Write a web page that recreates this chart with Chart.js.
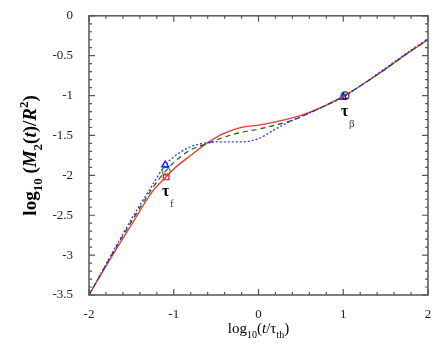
<!DOCTYPE html>
<html>
<head>
<meta charset="utf-8">
<script src="https://cdn.jsdelivr.net/npm/chart.js@4.4.0/dist/chart.umd.min.js"></script>
<style>
  body { margin: 0; background: #fff; }
  #wrap { width: 436px; height: 356px; }
</style>
</head>
<body>
<div id="wrap"><canvas id="c" width="436" height="356"></canvas></div>
<script>
// log10(t/tau_th) sample points
var logT = [-2, -1.75, -1.5, -1.25, -1.1, -1, -0.8, -0.6, -0.4, -0.2, 0, 0.2, 0.4, 0.6, 0.8, 1, 1.2, 1.4, 1.6, 1.8, 2]
// log10(M2(t)/R^2) for the three curves
var redVals   = [-3.5, -3.05, -2.62, -2.2, -2.03, -1.92, -1.75, -1.59, -1.47, -1.40, -1.37, -1.33, -1.28, -1.21, -1.12, -1.01, -0.88, -0.74, -0.59, -0.44, -0.3]
var greenVals = [-3.5, -3.03, -2.58, -2.16, -1.95, -1.84, -1.68, -1.60, -1.52, -1.46, -1.42, -1.37, -1.31, -1.22, -1.12, -1.01, -0.88, -0.74, -0.59, -0.44, -0.3]
var blueVals  = [-3.5, -3.02, -2.55, -2.12, -1.87, -1.77, -1.64, -1.59, -1.58, -1.58, -1.54, -1.42, -1.31, -1.22, -1.12, -1.02, -0.88, -0.73, -0.58, -0.43, -0.29]

// marked times tau_f and tau_beta
var markX   = [[-1.1, 1.0], [-1.09, 1.02], [-1.09, 1.03]]  // blue, green, red
var markY   = [[-1.87, -1.02], [-1.95, -1.0], [-2.02, -1.0]]
var markLabels = [["τ", "f", -1.09, -2.02], ["τ", "β", 1.02, -1.02]]

var xTicks = [-2, -1, 0, 1, 2]
var yTicks = [0, -0.5, -1, -1.5, -2, -2.5, -3, -3.5]

function pts(xs, ys){
  return xs.map(function(x, i){ return {x: x, y: ys[i]} })
}

var SERIF = "'Liberation Serif', 'DejaVu Serif', serif"

// frame and inward ticks on all four sides
var framePlugin = {
  id: 'frame',
  afterDatasetsDraw(chart){
    var ctx = chart.ctx, a = chart.chartArea
    var xs = chart.scales.x, ys = chart.scales.y
    ctx.save()
    ctx.strokeStyle = '#555'
    ctx.lineWidth = 1.5
    ctx.strokeRect(a.left, a.top, a.right - a.left, a.bottom - a.top)
    ctx.lineWidth = 1.2
    ctx.beginPath()
    for(var v = -2; v <= 2.0001; v += 0.2){
      var px = xs.getPixelForValue(v)
      var major = Math.abs(v - Math.round(v)) < 0.01
      var len = major ? 6 : 3
      ctx.moveTo(px, a.bottom); ctx.lineTo(px, a.bottom - len)
      ctx.moveTo(px, a.top); ctx.lineTo(px, a.top + len)
    }
    for(var k = 0; k <= 35; k++){
      var val = -k / 10
      var py = ys.getPixelForValue(val)
      var len2 = (k % 5 == 0) ? 6 : 3
      ctx.moveTo(a.left, py); ctx.lineTo(a.left + len2, py)
      ctx.moveTo(a.right, py); ctx.lineTo(a.right - len2, py)
    }
    ctx.stroke()
    ctx.restore()
  }
}

function drawRuns(ctx, runs, x, y){
  // runs: [text, font, dy]
  var total = 0
  runs.forEach(function(r){ ctx.font = r[1]; total += ctx.measureText(r[0]).width })
  var cx = x - total / 2
  runs.forEach(function(r){
    ctx.font = r[1]
    ctx.fillText(r[0], cx, y + r[2])
    cx += ctx.measureText(r[0]).width
  })
}

// axis titles and tau labels
var textPlugin = {
  id: 'texts',
  afterDraw(chart){
    var ctx = chart.ctx, a = chart.chartArea
    var xs = chart.scales.x, ys = chart.scales.y
    ctx.save()
    ctx.fillStyle = '#000'
    ctx.textBaseline = 'alphabetic'
    ctx.textAlign = 'left'
    var big = "15px " + SERIF, sub = "10px " + SERIF, it = "italic 15px " + SERIF
    drawRuns(ctx, [
      ["log", big, 0], ["10", sub, 5], ["(", big, 0], ["t", it, 0],
      ["/τ", big, 0], ["th", sub, 5], [")", big, 0]
    ], (a.left + a.right) / 2, 333)

    ctx.translate(36, (a.top + a.bottom) / 2)
    ctx.rotate(-Math.PI / 2)
    var bb = "bold 19px " + SERIF, bs = "bold 13px " + SERIF, bi = "bold italic 19px " + SERIF
    drawRuns(ctx, [
      ["log", bb, 0], ["10", bs, 6], [" (", bb, 0], ["M", bi, 0], ["2", bs, 6],
      ["(", bb, 0], ["t", bi, 0], [")/", bb, 0], ["R", bi, 0], ["2", bs, -8], [")", bb, 0]
    ], 0, 0)
    ctx.restore()

    ctx.save()
    ctx.textAlign = 'left'
    markLabels.forEach(function(m){
      var px = xs.getPixelForValue(m[2]), py = ys.getPixelForValue(m[3])
      ctx.fillStyle = '#000'
      ctx.font = "bold 16px " + SERIF
      ctx.fillText(m[0], px - 4, py + 19)
      ctx.fillStyle = '#444'
      ctx.font = "11px " + SERIF
      ctx.fillText(m[1], px + 4, py + 30)
    })
    ctx.restore()
  }
}

var lineStyle = { pointRadius: 0, fill: false, cubicInterpolationMode: 'monotone' }

var datasets = [
  Object.assign({ data: pts(logT, blueVals), borderColor: '#3333ff', borderWidth: 1.3, borderDash: [2, 2] }, lineStyle),
  Object.assign({ data: pts(logT, greenVals), borderColor: '#006400', borderWidth: 1.2, borderDash: [5, 4] }, lineStyle),
  Object.assign({ data: pts(logT, redVals), borderColor: '#ff3030', borderWidth: 1.3 }, lineStyle)
]
var markStyles = [['triangle', '#0000ee'], ['circle', '#2e8b57'], ['rect', '#ee0000']]
markStyles.forEach(function(s, i){
  datasets.push({
    data: pts(markX[i], markY[i]), showLine: false, pointStyle: s[0],
    pointRadius: 4, pointBorderColor: s[1], pointBackgroundColor: 'rgba(0,0,0,0)', pointBorderWidth: 1.2
  })
})

new Chart(document.getElementById('c'), {
  type: 'line',
  data: { datasets: datasets },
  plugins: [framePlugin, textPlugin],
  options: {
    responsive: false,
    animation: false,
    layout: { padding: { top: 13, right: 8, left: 0, bottom: 0 } },
    plugins: { legend: { display: false }, tooltip: { enabled: false } },
    scales: {
      x: {
        type: 'linear', min: -2, max: 2,
        afterFit: function(s){ s.height = 61 },
        afterBuildTicks: function(s){ s.ticks = xTicks.map(function(v){ return {value: v} }) },
        grid: { display: false }, border: { display: false },
        ticks: { color: '#222', font: { family: SERIF, size: 13 }, padding: 4, maxRotation: 0,
                 callback: function(v){ return String(v) } }
      },
      y: {
        type: 'linear', min: -3.5, max: 0,
        afterFit: function(s){ s.width = 89 },
        afterBuildTicks: function(s){ s.ticks = yTicks.map(function(v){ return {value: v} }) },
        grid: { display: false }, border: { display: false },
        ticks: { color: '#222', font: { family: SERIF, size: 13 }, padding: 8,
                 callback: function(v){ return String(v) } }
      }
    }
  }
})
</script>
</body>
</html>
